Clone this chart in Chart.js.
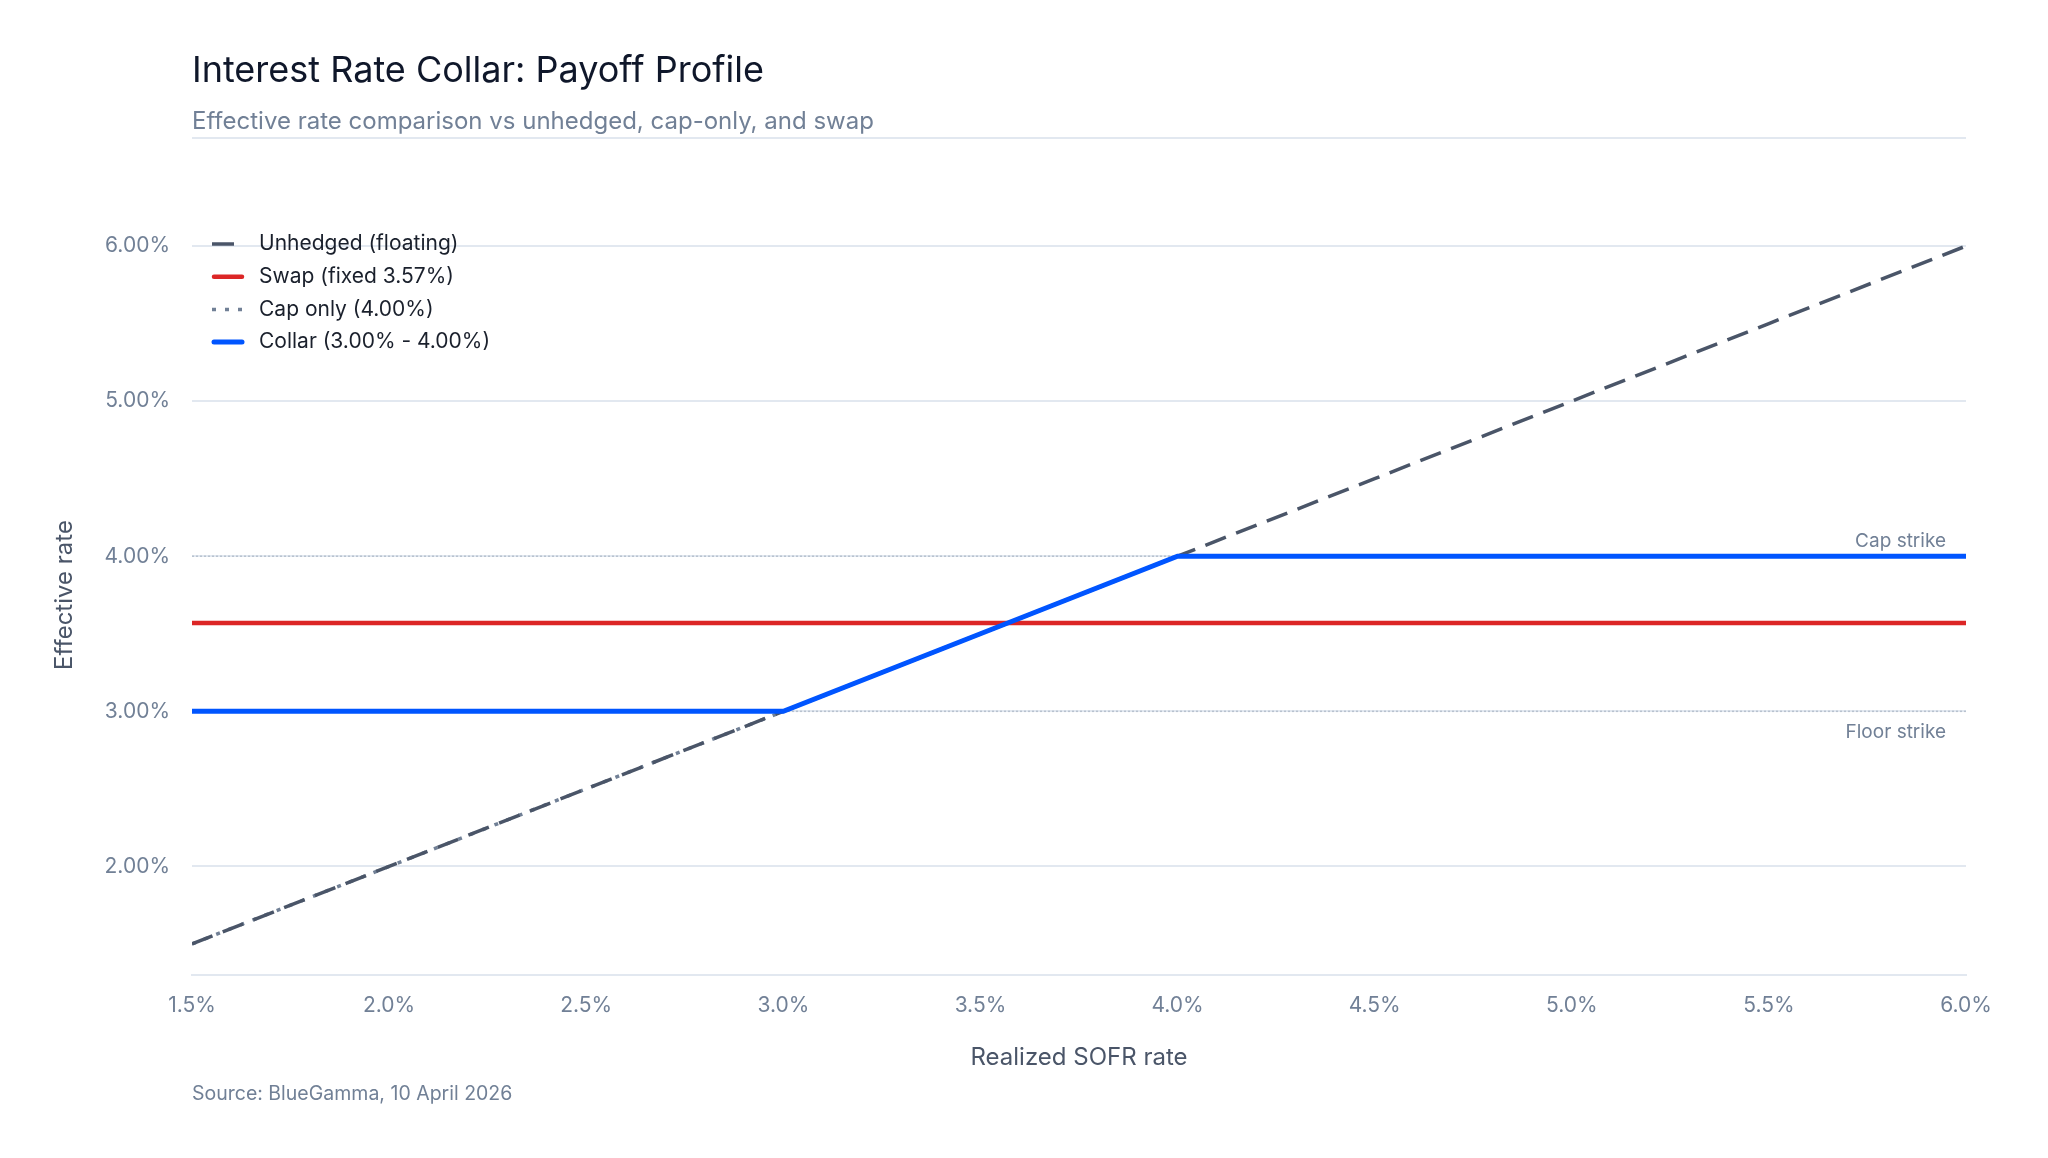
<!DOCTYPE html>
<html lang="en">
<head>
    <meta charset="UTF-8">
    <title>Interest Rate Collar: Payoff Profile</title>
    <script src="https://cdn.jsdelivr.net/npm/chart.js"></script>
    <style>
        body {
            margin: 0;
            background: #fff;
            font-family: Inter, "Liberation Sans", sans-serif;
        }
        .page {
            position: relative;
            width: 2048px;
            height: 1158px;
            overflow: hidden;
        }
        .title {
            position: absolute;
            left: 192px;
            top: 51px;
            font-size: 36px;
            line-height: 1;
            color: #0f172a;
            white-space: nowrap;
        }
        .subtitle {
            position: absolute;
            left: 192px;
            top: 109px;
            font-size: 24px;
            line-height: 1;
            color: #718096;
            white-space: nowrap;
        }
        .rule {
            position: absolute;
            left: 192px;
            top: 137px;
            width: 1774px;
            height: 2px;
            background: #e2e8f0;
        }
        .source {
            position: absolute;
            left: 192px;
            top: 1084px;
            font-size: 19.5px;
            line-height: 1;
            color: #718096;
            white-space: nowrap;
        }
        .chart-box {
            position: absolute;
            left: 0;
            top: 0;
            width: 2048px;
            height: 1158px;
        }
    </style>
</head>
<body>

<div class="page">
    <div class="chart-box"><canvas id="collarChart"></canvas></div>
    <div class="title">Interest Rate Collar: Payoff Profile</div>
    <div class="subtitle">Effective rate comparison vs unhedged, cap-only, and swap</div>
    <div class="rule"></div>
    <div class="source">Source: BlueGamma, 10 April 2026</div>
</div>

<script>
    // realized SOFR (x) and effective rate per strategy (y), in %
    const sofrRates = [1.5, 2.0, 2.5, 3.0, 3.5, 4.0, 4.5, 5.0, 5.5, 6.0];
    const unhedgedRates = [1.5, 2.0, 2.5, 3.0, 3.5, 4.0, 4.5, 5.0, 5.5, 6.0];
    const swapRates = [3.57, 3.57, 3.57, 3.57, 3.57, 3.57, 3.57, 3.57, 3.57, 3.57];
    const capOnlyRates = [1.5, 2.0, 2.5, 3.0, 3.5, 4.0, 4.0, 4.0, 4.0, 4.0];
    const collarRates = [3.0, 3.0, 3.0, 3.0, 3.5, 4.0, 4.0, 4.0, 4.0, 4.0];

    const seriesNames = ['Unhedged (floating)', 'Swap (fixed 3.57%)', 'Cap only (4.00%)', 'Collar (3.00% - 4.00%)'];
    const xTickValues = [1.5, 2.0, 2.5, 3.0, 3.5, 4.0, 4.5, 5.0, 5.5, 6.0];
    const yTickValues = [2, 3, 4, 5, 6];
    const strikeValues = [4.0, 3.0];
    const strikeLabels = ['Cap strike', 'Floor strike'];

    const toPoints = values => sofrRates.map((x, i) => ({ x: x, y: values[i] }));

    const strikeLines = {
        id: 'strikeLines',
        beforeDatasetsDraw(chart) {
            const { ctx, chartArea, scales } = chart;
            const highest = Math.max(...strikeValues);
            ctx.save();
            strikeValues.forEach((v, i) => {
                const y = scales.y.getPixelForValue(v);
                ctx.beginPath();
                ctx.setLineDash([2, 2]);
                ctx.lineWidth = 1.5;
                ctx.strokeStyle = '#b8c2cf';
                ctx.moveTo(chartArea.left, y);
                ctx.lineTo(chartArea.right, y);
                ctx.stroke();
                ctx.font = '19px Inter, sans-serif';
                ctx.fillStyle = '#718096';
                ctx.textAlign = 'right';
                ctx.textBaseline = 'middle';
                ctx.fillText(strikeLabels[i], chartArea.right - 20, v === highest ? y - 15 : y + 21);
            });
            ctx.restore();
        }
    };

    // legend drawn by hand so the dash patterns show in the samples
    const lineLegend = {
        id: 'lineLegend',
        afterDraw(chart) {
            const { ctx, chartArea } = chart;
            ctx.save();
            ctx.font = '21px Inter, sans-serif';
            ctx.textBaseline = 'middle';
            ctx.textAlign = 'left';
            chart.data.datasets.forEach((ds, i) => {
                const y = chartArea.top + 29 + i * 32.7;
                const x = chartArea.left + 20;
                const dashed = ds.borderDash && ds.borderDash.length;
                ctx.beginPath();
                ctx.setLineDash(dashed ? ds.borderDash : []);
                ctx.lineCap = dashed ? 'butt' : 'round';
                ctx.lineWidth = ds.borderWidth;
                ctx.strokeStyle = ds.borderColor;
                ctx.moveTo(dashed ? x : x + 2, y);
                ctx.lineTo(dashed ? x + 32 : x + 30, y);
                ctx.stroke();
                ctx.fillStyle = '#1a202c';
                ctx.fillText(ds.label, chartArea.left + 67, y);
            });
            ctx.restore();
        }
    };

    const ctx = document.getElementById('collarChart').getContext('2d');
    new Chart(ctx, {
        type: 'line',
        data: {
            datasets: [{
                label: seriesNames[0],
                data: toPoints(unhedgedRates),
                borderColor: '#4a5568',
                borderWidth: 3.5,
                borderDash: [22, 11],
                order: 1
            }, {
                label: seriesNames[1],
                data: toPoints(swapRates),
                borderColor: '#dc2626',
                borderWidth: 4.5,
                order: 3
            }, {
                label: seriesNames[2],
                data: toPoints(capOnlyRates),
                borderColor: '#718096',
                borderWidth: 3.5,
                borderDash: [4, 9],
                order: 2
            }, {
                label: seriesNames[3],
                data: toPoints(collarRates),
                borderColor: '#0055ff',
                borderWidth: 5,
                order: 0
            }]
        },
        options: {
            responsive: true,
            maintainAspectRatio: false,
            animation: false,
            elements: {
                point: { radius: 0, hoverRadius: 0 },
                line: { tension: 0, fill: false }
            },
            layout: {
                padding: { left: 40, top: 215, right: 82, bottom: 84 }
            },
            plugins: {
                legend: { display: false },
                title: { display: false },
                tooltip: { enabled: false }
            },
            scales: {
                x: {
                    type: 'linear',
                    min: 1.5,
                    max: 6.0,
                    afterBuildTicks: scale => { scale.ticks = xTickValues.map(v => ({ value: v })); },
                    afterFit: scale => { scale.height = 99; },
                    grid: { display: false, drawTicks: false },
                    border: { display: true, color: '#e2e8f0', width: 2 },
                    ticks: {
                        padding: 18,
                        color: '#718096',
                        font: { family: 'Inter', size: 21 },
                        maxRotation: 0,
                        callback: v => v.toFixed(1) + '%'
                    },
                    title: {
                        display: true,
                        text: 'Realized SOFR rate',
                        color: '#4a5568',
                        font: { family: 'Inter', size: 24 },
                        padding: { top: 0, bottom: 2 }
                    }
                },
                y: {
                    type: 'linear',
                    min: 1.3,
                    max: 6.2,
                    afterBuildTicks: scale => { scale.ticks = yTickValues.map(v => ({ value: v })); },
                    afterFit: scale => { scale.width = 152; },
                    grid: { color: '#e2e8f0', lineWidth: 2, drawTicks: false },
                    border: { display: false },
                    ticks: {
                        padding: 22,
                        color: '#718096',
                        font: { family: 'Inter', size: 21 },
                        callback: v => v.toFixed(2) + '%'
                    },
                    title: {
                        display: true,
                        text: 'Effective rate',
                        color: '#4a5568',
                        font: { family: 'Inter', size: 24 },
                        padding: { top: 10, bottom: 0 }
                    }
                }
            }
        },
        plugins: [strikeLines, lineLegend]
    });
</script>

</body>
</html>
